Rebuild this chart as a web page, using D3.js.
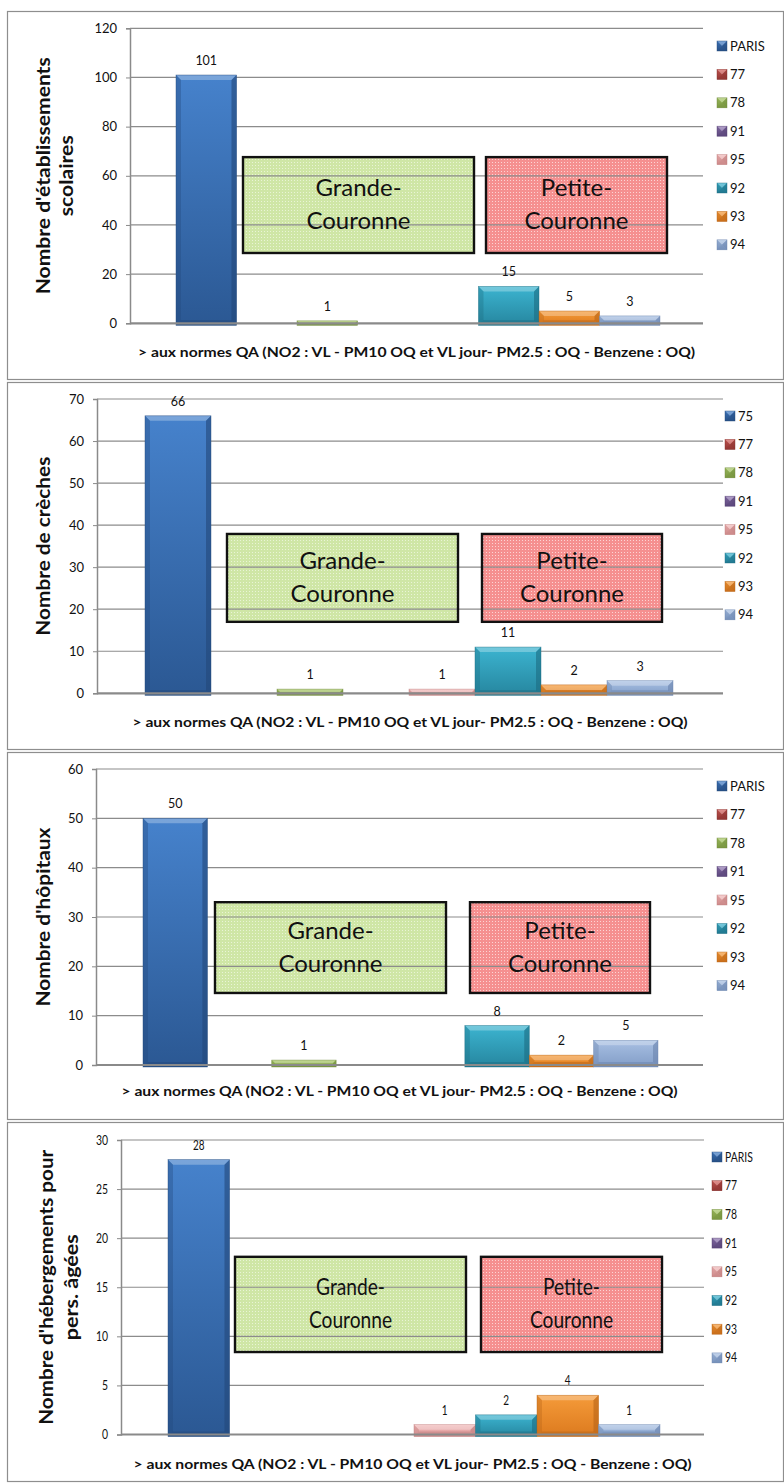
<!DOCTYPE html>
<html>
<head>
<meta charset="utf-8">
<script src="https://cdn.jsdelivr.net/npm/d3@7"></script>
<style>
  body { margin: 0; background: #fff; }
  svg { display: block; }
  text { font-family: Lato, "Open Sans", sans-serif; fill: #111; }
</style>
</head>
<body>
<svg id="chart" width="784" height="1483"></svg>
<script>
// ---- data ----
const series = ["PARIS", "77", "78", "91", "95", "92", "93", "94"];
const seriesCreches = ["75", "77", "78", "91", "95", "92", "93", "94"];
const etablissements = [101, 0, 1, 0, 0, 15, 5, 3];
const creches = [66, 0, 1, 0, 1, 11, 2, 3];
const hopitaux = [50, 0, 1, 0, 0, 8, 2, 5];
const hebergements = [28, 0, 0, 0, 1, 2, 4, 1];
const ticksEtab = [0, 20, 40, 60, 80, 100, 120];
const ticksCreches = [0, 10, 20, 30, 40, 50, 60, 70];
const ticksHop = [0, 10, 20, 30, 40, 50, 60];
const ticksHeb = [0, 5, 10, 15, 20, 25, 30];
const titleEtab = ["Nombre d'établissements", "scolaires"];
const titleCreches = ["Nombre de crèches"];
const titleHop = ["Nombre d'hôpitaux"];
const titleHeb = ["Nombre d'hébergements pour", "pers. âgées"];
const xAxisTitle = "> aux normes QA (NO2 : VL - PM10 OQ et VL jour- PM2.5 : OQ - Benzene : OQ)";
const zoneLabels = [["Grande-", "Couronne"], ["Petite-", "Couronne"]];

// ---- styles ----
const barColors = [
  { top: "#4682cc", bot: "#2b5893", edge: "#23487a" }, // PARIS / 75
  { top: "#d4605c", bot: "#a03c39", edge: "#83302e" }, // 77
  { top: "#a9c968", bot: "#86a648", edge: "#6d883a" }, // 78
  { top: "#9077b2", bot: "#67508a", edge: "#523f70" }, // 91
  { top: "#f1b9b9", bot: "#dc9898", edge: "#bd7c7c" }, // 95
  { top: "#3cb4d0", bot: "#26869f", edge: "#1d6c82" }, // 92
  { top: "#f59b3a", bot: "#dc7a1e", edge: "#b86418" }, // 93
  { top: "#a8c0e3", bot: "#829dc7", edge: "#6a84ad" }  // 94
];
const zoneStyles = [
  { base: "#cfe6a6", dot: "#e9f4d6" },
  { base: "#f59090", dot: "#fcd4d4" }
];

// ---- layout of the four stacked panels ----
const panels = [
  { values: etablissements, names: series, ticks: ticksEtab, title: titleEtab,
    top: 11, bottom: 379, x0: 130, x1: 703, yZero: 323.3, yMax: 28.3,
    bars: [176, 660], legendX: 717, legendY: 46, legendStep: 28.4,
    titleX: [50, 73], titleLen: [237, 81], xTitleY: 357, xTitleLen: 557,
    zoneX: [[243, 474], [486, 667]], zoneV: [67.6, 28.6], sx: 1 },
  { values: creches, names: seriesCreches, ticks: ticksCreches, title: titleCreches,
    top: 382, bottom: 749, x0: 97, x1: 723, yZero: 693.3, yMax: 399,
    bars: [145, 673], legendX: 725, legendY: 416, legendStep: 28.4,
    titleX: [50], titleLen: [179], xTitleY: 727, xTitleLen: 555,
    zoneX: [[227, 458], [482, 662]], zoneV: [37.9, 17], sx: 1 },
  { values: hopitaux, names: series, ticks: ticksHop, title: titleHop,
    top: 752, bottom: 1119, x0: 96, x1: 703, yZero: 1065, yMax: 769,
    bars: [143, 658], legendX: 717, legendY: 786, legendStep: 28.5,
    titleX: [50], titleLen: [179], xTitleY: 1096, xTitleLen: 556,
    zoneX: [[215, 446], [470, 650]], zoneV: [33, 14.6], sx: 1 },
  { values: hebergements, names: series, ticks: ticksHeb, title: titleHeb,
    top: 1122, bottom: 1481, x0: 121, x1: 704, yZero: 1434.5, yMax: 1140,
    bars: [168, 660], legendX: 712, legendY: 1157, legendStep: 28.7,
    titleX: [53, 78], titleLen: [275, 106], xTitleY: 1469, xTitleLen: 558,
    zoneX: [[235, 466], [481, 662]], zoneV: [18.1, 8.4], sx: 0.8 }
];

const svg = d3.select("#chart");
const defs = svg.append("defs");

// bar gradients
barColors.forEach((c, i) => {
  const g = defs.append("linearGradient").attr("id", "bar" + i)
    .attr("x1", 0).attr("y1", 0).attr("x2", 0).attr("y2", 1);
  g.append("stop").attr("offset", "0%").attr("stop-color", c.top);
  g.append("stop").attr("offset", "100%").attr("stop-color", c.bot);
});

// fine dotted fills of the two zone boxes
zoneStyles.forEach((z, k) => {
  const p = defs.append("pattern").attr("id", "zone" + k)
    .attr("width", 3).attr("height", 3).attr("patternUnits", "userSpaceOnUse");
  p.append("rect").attr("width", 3).attr("height", 3).attr("fill", z.base)
    .attr("shape-rendering", "crispEdges");
  p.append("rect").attr("x", 0).attr("y", 0).attr("width", 1).attr("height", 1)
    .attr("fill", z.dot).attr("shape-rendering", "crispEdges");
});

// bevelled bar in the style of the spreadsheet 3D column
function bevelBar(g, x, y, w, h, i) {
  const c = barColors[i];
  g.append("rect").attr("x", x).attr("y", y).attr("width", w).attr("height", h)
    .attr("fill", `url(#bar${i})`);
  const b = Math.min(5, h / 2, w / 2);
  g.append("polygon")
    .attr("points", [[x, y], [x + w, y], [x + w - b, y + b], [x + b, y + b]].join(" "))
    .attr("fill", "#fff").attr("opacity", 0.28);
  g.append("polygon")
    .attr("points", [[x, y], [x + b, y + b], [x + b, y + h - b], [x, y + h]].join(" "))
    .attr("fill", c.edge).attr("opacity", 0.35);
  g.append("polygon")
    .attr("points", [[x + w, y], [x + w - b, y + b], [x + w - b, y + h - b], [x + w, y + h]].join(" "))
    .attr("fill", c.edge).attr("opacity", 0.6);
  g.append("polygon")
    .attr("points", [[x, y + h], [x + b, y + h - b], [x + w - b, y + h - b], [x + w, y + h]].join(" "))
    .attr("fill", c.edge).attr("opacity", 0.5);
  g.append("rect").attr("x", x).attr("y", y).attr("width", w).attr("height", h)
    .attr("fill", "none").attr("stroke", c.edge).attr("stroke-width", 0.6).attr("opacity", 0.7);
}

// text with optional horizontal squeeze
function label(g, x, y, str, opts) {
  const o = Object.assign({ size: 13, weight: 400, anchor: "middle", sx: 1 }, opts || {});
  const t = g.append("text")
    .attr("transform", `translate(${x},${y}) scale(${o.sx},1)`)
    .attr("text-anchor", o.anchor)
    .style("font-size", o.size + "px")
    .style("font-weight", o.weight)
    .text(str);
  if (o.len) t.attr("textLength", o.len).attr("lengthAdjust", "spacingAndGlyphs");
  return t;
}

panels.forEach(p => {
  const g = svg.append("g");
  const maxV = p.ticks[p.ticks.length - 1];
  const y = d3.scaleLinear().domain([0, maxV]).range([p.yZero, p.yMax]);
  const x = d3.scaleBand().domain(p.names).range(p.bars).padding(0);

  // panel frame
  g.append("rect").attr("x", 7.5).attr("y", p.top + 0.5)
    .attr("width", 776).attr("height", p.bottom - p.top)
    .attr("fill", "#fff").attr("stroke", "#8e8e8e").attr("stroke-width", 1.2);

  // zone boxes (fill below the grid)
  p.zoneX.forEach((zx, k) => {
    g.append("rect").attr("x", zx[0]).attr("y", y(p.zoneV[0]))
      .attr("width", zx[1] - zx[0]).attr("height", y(p.zoneV[1]) - y(p.zoneV[0]))
      .attr("fill", `url(#zone${k})`);
  });

  // y axis with ticks
  const axis = d3.axisLeft(y).tickValues(p.ticks).tickSize(4).tickPadding(9).tickFormat(d3.format("d"));
  const ax = g.append("g").attr("transform", `translate(${p.x0},0)`).call(axis);
  ax.select(".domain").attr("stroke", "#8a8a8a").attr("stroke-width", 1.5);
  ax.selectAll(".tick line").attr("stroke", "#8a8a8a");
  ax.selectAll(".tick text")
    .style("font-family", "Lato, 'Open Sans', sans-serif")
    .style("font-size", "13px").attr("fill", "#1a1a1a");
  if (p.sx !== 1) {
    ax.selectAll(".tick text").each(function () {
      const t = d3.select(this);
      t.attr("x", +t.attr("x") / p.sx).attr("transform", `scale(${p.sx},1)`);
    });
  }
  // horizontal gridlines
  g.append("g").selectAll("line").data(p.ticks.filter(d => d > 0)).join("line")
    .attr("x1", p.x0).attr("x2", p.x1)
    .attr("y1", d => y(d)).attr("y2", d => y(d))
    .attr("stroke", "#8c8c8c").attr("stroke-width", 1.2);

  // bars with value labels
  const bars = g.append("g");
  p.values.forEach((v, i) => {
    if (v <= 0) return;
    const bx = x(p.names[i]);
    bevelBar(bars, bx, y(v), x.bandwidth(), p.yZero - y(v) + 2, i);
    label(bars, bx + x.bandwidth() / 2, y(v) - 10, String(v), { size: 12.5, sx: p.sx });
  });

  // x axis line
  g.append("line").attr("x1", p.x0).attr("x2", p.x1)
    .attr("y1", p.yZero).attr("y2", p.yZero)
    .attr("stroke", "#8a8a8a").attr("stroke-width", 2.2);

  // zone borders and captions
  p.zoneX.forEach((zx, k) => {
    const top = y(p.zoneV[0]), bot = y(p.zoneV[1]);
    g.append("rect").attr("x", zx[0]).attr("y", top)
      .attr("width", zx[1] - zx[0]).attr("height", bot - top)
      .attr("fill", "none").attr("stroke", "#111").attr("stroke-width", 2.4);
    const cx = (zx[0] + zx[1]) / 2, cy = (top + bot) / 2;
    label(g, cx, cy - 9, zoneLabels[k][0], { size: 24, sx: p.sx });
    label(g, cx, cy + 24, zoneLabels[k][1], { size: 24, sx: p.sx });
  });

  // legend
  const lg = g.append("g");
  p.names.forEach((n, i) => {
    const ly = p.legendY + i * p.legendStep;
    bevelBar(lg, p.legendX, ly - 5, 10, 10, i);
    label(lg, p.legendX + 13, ly + 4.5, n, { size: 13, anchor: "start", sx: p.sx });
  });

  // axis titles
  const cy = (p.yZero + p.yMax) / 2;
  p.title.forEach((t, k) => {
    g.append("text")
      .attr("transform", `translate(${p.titleX[k]},${cy}) rotate(-90)`)
      .attr("text-anchor", "middle")
      .style("font-size", "18px").style("font-weight", 700)
      .attr("textLength", p.titleLen[k]).attr("lengthAdjust", "spacingAndGlyphs")
      .text(t);
  });
  label(g, (p.x0 + p.x1) / 2, p.xTitleY, xAxisTitle, { size: 13.5, weight: 700, len: p.xTitleLen });
});
</script>
</body>
</html>
